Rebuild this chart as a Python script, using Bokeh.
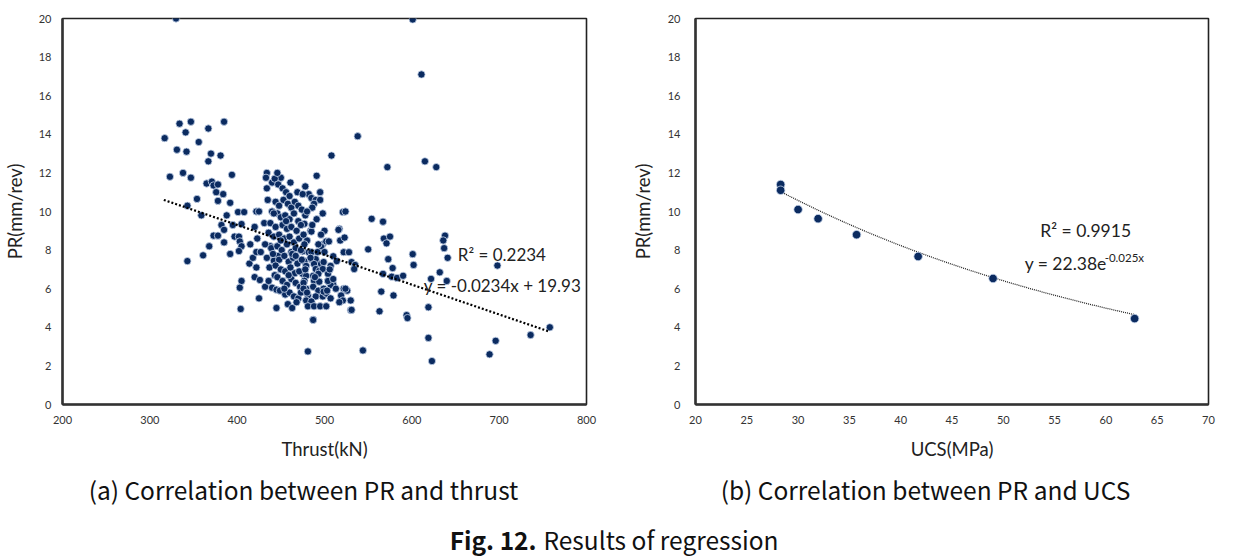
import numpy as np
from bokeh.plotting import figure
from bokeh.layouts import column, row
from bokeh.models import Range1d, Label, FixedTicker
from bokeh.embed import file_html
from bokeh.resources import INLINE

# ---------------- data (a) PR vs thrust ----------------
thrust_pr_points = [
    (330, 20.0), (317, 13.8), (334, 14.55), (347, 14.65), (341, 14.1), (385, 14.65), (367, 14.3),
    (356, 13.6), (331, 13.2), (342, 13.1), (370, 13.0), (381, 12.9), (367, 12.6), (323, 11.8),
    (338, 12.0), (347, 11.75), (394, 11.9), (365, 11.45), (371, 11.55), (373, 11.35), (378, 11.4),
    (376, 11.0), (384, 10.9), (354, 10.65), (378, 10.55), (392, 10.45), (343, 10.3), (359, 9.8),
    (388, 9.8), (401, 9.97), (408, 9.97), (382, 9.3), (395, 9.3), (405, 9.35), (385, 9.05),
    (373, 8.75), (378, 8.75), (397, 8.7), (402, 8.7), (368, 8.2), (420, 9.2), (422, 10.0),
    (425, 10.0), (415, 8.3), (423, 8.6), (343, 7.43), (361, 7.73), (385, 8.4), (392, 7.8),
    (403, 8.45), (405, 8.2), (402, 7.95), (414, 7.3), (418, 7.6), (422, 7.9), (427, 7.9),
    (422, 7.1), (420, 6.6), (426, 6.45), (405, 6.4), (403, 6.05), (404, 4.95), (425, 5.5),
    (431, 9.4), (435, 10.6), (434, 12.0), (433, 11.75), (440, 11.5), (450, 11.75), (434, 11.2),
    (432, 6.1), (436, 6.4), (440, 6.05), (445, 5.95), (445, 5.0), (481, 2.75), (487, 4.4),
    (443, 6.7), (438, 8.2), (447, 7.7), (442, 7.45),
    (491, 11.85), (482, 10.9), (495, 11.0), (485, 10.7), (490, 10.6), (495, 10.6), (488, 10.4),
    (486, 10.2), (478, 9.8), (498, 9.9), (475, 9.35), (484, 9.0), (500, 9.0), (480, 8.5), (498, 8.3),
    (475, 7.94), (482, 7.89), (485, 7.89), (477, 7.43), (485, 7.53), (490, 7.53), (479, 7.18),
    (488, 7.28), (496, 7.28), (499, 7.38), (490, 7.02), (494, 6.92), (498, 7.02), (475, 6.77),
    (479, 6.67), (487, 6.67), (493, 6.77), (504, 6.77), (507, 7.18), (477, 6.41), (488, 6.41),
    (494, 6.36), (504, 6.41), (510, 6.21), (479, 6.0), (487, 6.1), (493, 5.9), (499, 6.0),
    (481, 5.65), (490, 5.6), (498, 5.6), (502, 5.75), (479, 5.39), (485, 5.34), (481, 5.09),
    (488, 5.09), (495, 5.09), (502, 5.09), (522, 6.0), (526, 5.9), (519, 5.65), (521, 5.39),
    (517, 5.3), (530, 5.39), (530, 4.89), (563, 4.83), (565, 5.85), (579, 5.65), (487, 4.38),
    (594, 4.63), (595, 4.48), (619, 5.04),
    (521, 9.97), (554, 9.62), (567, 9.47), (477, 9.36), (485, 8.96), (517, 9.1), (496, 8.19),
    (502, 8.45), (505, 8.45), (518, 8.5), (523, 8.65), (568, 8.6), (575, 8.7), (571, 8.35),
    (550, 8.04), (522, 7.89), (528, 7.89), (510, 7.68), (514, 7.43), (531, 7.38), (535, 7.23),
    (534, 7.02), (573, 7.53), (578, 7.07), (601, 7.79), (602, 7.23), (567, 6.77), (577, 6.62),
    (583, 6.56), (590, 6.67), (622, 6.51),
    (544, 2.8), (531, 4.9), (619, 3.45), (623, 2.25), (689, 2.6), (696, 3.3), (736, 3.6),
    (758, 4.0), (698, 7.2), (641, 7.6), (640, 6.4), (632, 6.85), (638, 8.75), (636, 8.5),
    (637, 8.1), (524, 6.0), (507, 6.2), (504, 6.4), (499, 5.85),
    (601, 19.95), (611, 17.1), (538, 13.9), (508, 12.9), (572, 12.3), (615, 12.6), (628, 12.3),
    (524, 10.0), (516, 9.05),
    (443, 11.7), (446, 12.0), (447, 11.4), (452, 11.2), (456, 11.0), (460, 10.8), (444, 10.5),
    (448, 10.3), (453, 10.6), (458, 10.4), (462, 10.2), (466, 10.5), (470, 10.3), (474, 10.1),
    (440, 10.0), (446, 9.9), (450, 9.7), (455, 9.8), (460, 9.6), (465, 9.9), (470, 9.5),
    (438, 9.4), (444, 9.2), (452, 9.3), (457, 9.1), (462, 9.2), (468, 9.0), (473, 9.3),
    (436, 8.9), (442, 8.7), (448, 8.8), (454, 8.6), (460, 8.7), (465, 8.4), (471, 8.6), (476, 8.8),
    (432, 8.3), (439, 8.1), (446, 8.2), (451, 8.0), (457, 8.3), (462, 7.9), (467, 8.1), (473, 8.0),
    (434, 7.6), (441, 7.8), (448, 7.5), (454, 7.7), (459, 7.4), (464, 7.6), (469, 7.3), (474, 7.5),
    (437, 7.1), (444, 7.2), (450, 7.0), (455, 6.9), (461, 7.1), (466, 6.8), (471, 6.9),
    (446, 6.6), (452, 6.4), (457, 6.2), (462, 6.5), (467, 6.3), (472, 6.1), (449, 5.9),
    (455, 5.7), (460, 5.8), (465, 5.6), (470, 5.5), (458, 5.2), (463, 5.0), (468, 5.3),
    (473, 5.8), (476, 6.3), (454, 6.0), (459, 6.7), (463, 7.8), (467, 7.7), (450, 8.5),
    (456, 9.5), (442, 9.9), (461, 11.5), (469, 11.0), (475, 10.9), (478, 11.3), (480, 10.0),
    (477, 8.3), (478, 7.0), (476, 6.0), (480, 5.8), (489, 6.6), (492, 7.9), (496, 8.8),
    (491, 9.6), (486, 9.3), (493, 8.3), (484, 7.6), (500, 7.9), (506, 7.0), (510, 6.5),
    (513, 6.0), (507, 5.5), (503, 5.9),
]
thrust = [p[0] for p in thrust_pr_points]
pr_a = [p[1] for p in thrust_pr_points]

# linear trendline as drawn (endpoints)
trend_a_x = [316, 758]
trend_a_y = [10.6, 3.77]

# ---------------- data (b) PR vs UCS ----------------
ucs = [28.3, 28.3, 30.0, 31.95, 35.7, 41.7, 49.0, 62.8]
pr_b = [11.4, 11.1, 10.1, 9.63, 8.8, 7.67, 6.53, 4.45]
fit_a, fit_b = 22.38, -0.025  # y = 22.38 e^(-0.025x)

x_ticks_a = [200, 300, 400, 500, 600, 700, 800]
x_ticks_b = [20, 25, 30, 35, 40, 45, 50, 55, 60, 65, 70]
y_ticks = [0, 2, 4, 6, 8, 10, 12, 14, 16, 18, 20]

FONT = "Lato"
NAVY = "#0b2b60"


def style(p, xticks, y_label_standoff, y_axis_label_standoff):
    p.xgrid.visible = False
    p.ygrid.visible = False
    p.outline_line_color = "#222222"
    p.outline_line_width = 1.6
    p.background_fill_color = "white"
    p.border_fill_color = "white"
    for ax in (p.xaxis[0], p.yaxis[0]):
        ax.axis_line_color = "#333333"
        ax.axis_line_width = 2.5
        ax.major_tick_line_color = None
        ax.minor_tick_line_color = None
        ax.major_tick_out = 0
        ax.major_tick_in = 0
        ax.minor_tick_out = 0
        ax.minor_tick_in = 0
        ax.major_label_text_font = FONT
        ax.major_label_text_font_size = "11px"
        ax.major_label_text_color = "#333333"
        ax.axis_label_text_font = FONT
        ax.axis_label_text_font_size = "18.5px"
        ax.axis_label_text_font_style = "normal"
        ax.axis_label_text_color = "#222222"
    p.xaxis[0].ticker = FixedTicker(ticks=xticks)
    p.yaxis[0].ticker = FixedTicker(ticks=y_ticks)
    p.xaxis[0].major_label_standoff = 11
    p.xaxis[0].axis_label_standoff = 11
    p.yaxis[0].major_label_standoff = y_label_standoff
    p.yaxis[0].axis_label_standoff = y_axis_label_standoff


# ---------------- figure (a) ----------------
p1 = figure(width=628, height=470, output_backend="svg", toolbar_location=None,
            x_range=Range1d(200, 800), y_range=Range1d(0, 20),
            min_border_left=61, min_border_right=42, min_border_top=15, min_border_bottom=62,
            x_axis_label="Thrust(kN)", y_axis_label="PR(mm/rev)")
style(p1, x_ticks_a, 11, 10)
p1.scatter(thrust, pr_a, size=7.3, fill_color=NAVY, line_color="#c9d7ec", line_width=0.8)
p1.line(trend_a_x, trend_a_y, line_color="black", line_width=2.2, line_dash="2 2")
p1.add_layout(Label(x=652.6, y=7.79, text="R² = 0.2234", text_font=FONT, text_font_size="17px",
                    text_baseline="middle", text_color="#222222"))
p1.add_layout(Label(x=613.7, y=6.16, text="y = -0.0234x + 19.93", text_font=FONT,
                    text_font_size="17px", text_baseline="middle", text_color="#222222"))

# ---------------- figure (b) ----------------
p2 = figure(width=604, height=470, output_backend="svg", toolbar_location=None,
            x_range=Range1d(20, 70), y_range=Range1d(0, 20),
            min_border_left=61, min_border_right=24, min_border_top=18, min_border_bottom=66,
            x_axis_label="UCS(MPa)", y_axis_label="PR(mm/rev)")
style(p2, x_ticks_b, 15, 11)
fx = np.linspace(min(ucs), max(ucs), 80)
p2.line(fx, fit_a * np.exp(fit_b * fx), line_color="#222222", line_width=1.3, line_dash="1 1")
p2.scatter(ucs, pr_b, size=8.5, fill_color=NAVY, line_color="#c9d7ec", line_width=0.8)
p2.add_layout(Label(x=53.6, y=9.02, text="R² = 0.9915", text_font=FONT, text_font_size="17.5px",
                    text_baseline="middle", text_color="#222222"))
p2.add_layout(Label(x=52.08, y=7.31, text="y = 22.38e", text_font=FONT, text_font_size="17.5px",
                    text_baseline="middle", text_color="#222222"))
p2.add_layout(Label(x=52.08, y=7.31, x_offset=80, y_offset=6, text="-0.025x", text_font=FONT,
                    text_font_size="11.5px", text_baseline="middle", text_color="#222222"))

# ---------------- captions ----------------
p3 = figure(width=1232, height=86, output_backend="svg", toolbar_location=None,
            x_range=Range1d(0, 1232), y_range=Range1d(86, 0),
            min_border=0)
p3.axis.visible = False
p3.grid.visible = False
p3.outline_line_color = None
CAP = "Noto Sans CJK KR"
p3.add_layout(Label(x=303, y=19, text="(a) Correlation between PR and thrust", text_font=CAP,
                    text_font_size="24.5px", text_align="center", text_baseline="middle",
                    text_color="#111111"))
p3.add_layout(Label(x=925, y=19, text="(b) Correlation between PR and UCS", text_font=CAP,
                    text_font_size="24.5px", text_align="center", text_baseline="middle",
                    text_color="#111111"))
p3.add_layout(Label(x=536, y=69, text="Fig. 12.", text_font=CAP, text_font_size="24.5px",
                    text_font_style="bold", text_align="right", text_baseline="middle",
                    text_color="#111111"))
p3.add_layout(Label(x=543, y=69, text="Results of regression", text_font=CAP,
                    text_font_size="24.5px", text_align="left", text_baseline="middle",
                    text_color="#111111"))

layout = column(row(p1, p2, spacing=0), p3, spacing=0)
open("out.html", "w").write(file_html(layout, INLINE))
